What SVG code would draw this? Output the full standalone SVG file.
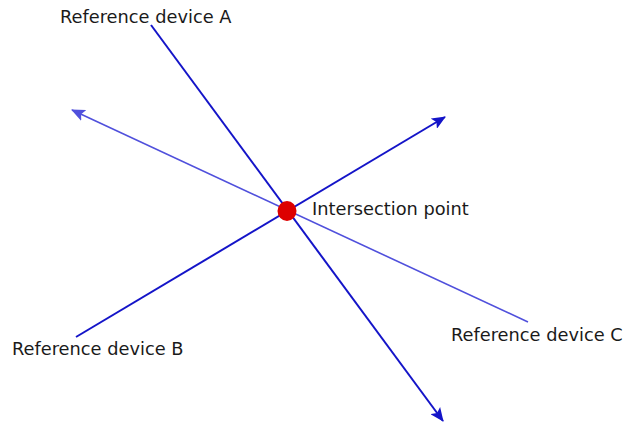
<svg xmlns="http://www.w3.org/2000/svg" width="624" height="423" viewBox="0 0 624 423">
<style>
.lbl{font-family:"DejaVu Sans",Verdana,sans-serif;font-size:17.8px;fill:#1a1a1a}
.dark{stroke:#1414c8;stroke-width:2;fill:none}
.light{stroke:#5050dc;stroke-width:1.6;fill:none}
</style>
<defs>
<marker id="ahd" markerUnits="userSpaceOnUse" markerWidth="14" markerHeight="12" refX="13" refY="6" orient="auto">
<path d="M0,0 L14,6 L0,12 L3,6 z" fill="#1414c8"/>
</marker>
<marker id="ahl" markerUnits="userSpaceOnUse" markerWidth="14" markerHeight="12" refX="13" refY="6" orient="auto">
<path d="M0,0 L14,6 L0,12 L3,6 z" fill="#5050dc"/>
</marker>
</defs>
<g id="connectors">
<line class="light" x1="528" y1="322" x2="72" y2="110" marker-end="url(#ahl)"/>
<line class="dark" x1="151" y1="25" x2="443" y2="421" marker-end="url(#ahd)"/>
<line class="dark" x1="76" y1="337" x2="445" y2="117" marker-end="url(#ahd)"/>
</g>
<g id="intersection">
<ellipse cx="287" cy="211" rx="9.5" ry="10" fill="#dd0000"/>
<text class="lbl" x="312" y="215">Intersection point</text>
</g>
<g id="deviceA"><text class="lbl" x="60" y="23">Reference device A</text></g>
<g id="deviceB"><text class="lbl" x="12" y="355">Reference device B</text></g>
<g id="deviceC"><text class="lbl" x="451" y="341">Reference device C</text></g>
</svg>
